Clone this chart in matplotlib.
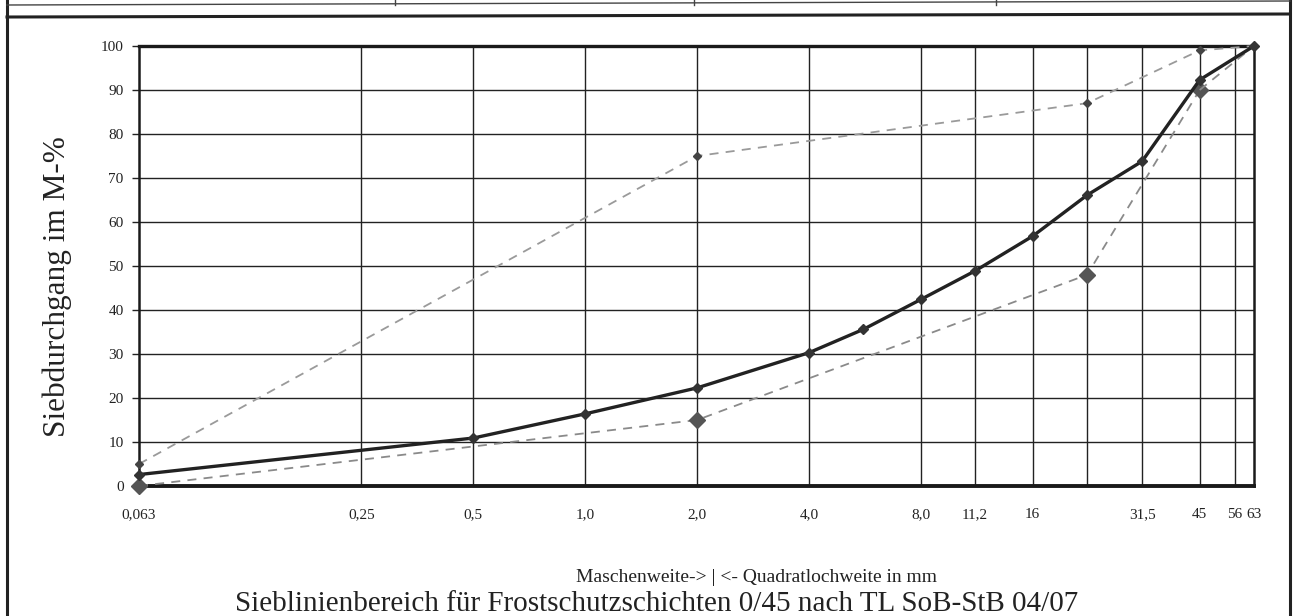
import matplotlib
matplotlib.use("Agg")
import matplotlib.pyplot as plt
from matplotlib.lines import Line2D

plt.rcParams['font.family'] = ['Liberation Serif', 'DejaVu Serif']

# Siebweiten (mm)
grid_sieves = [0.25, 0.5, 1.0, 2.0, 4.0, 8.0, 11.2, 16, 22.4, 31.5, 45, 56]
tick_pos = [0.063, 0.25, 0.5, 1.0, 2.0, 4.0, 8.0, 11.2, 16, 31.5, 45, 56, 63]
tick_lbl = ["0,063", "0,25", "0,5", "1,0", "2,0", "4,0", "8,0", "11,2", "16", "31,5", "45", "56", "63"]

# Probe (Sieblinie)
probe_x = [0.063, 0.5, 1.0, 2.0, 4.0, 5.6, 8.0, 11.2, 16, 22.4, 31.5, 45, 63]
probe_y = [2.6, 10.9, 16.4, 22.3, 30.3, 35.6, 42.4, 48.9, 56.8, 66.1, 73.8, 92.3, 100]

# Grenzlinien Sieblinienbereich
upper_x = [0.063, 2.0, 22.4, 45, 63]
upper_y = [5, 75, 87, 99, 100]
lower_x = [0.063, 2.0, 22.4, 45, 63]
lower_y = [0, 15, 48, 90, 100]

fig = plt.figure(figsize=(12.93, 6.16), dpi=100)
ax = fig.add_axes([139/1293, 1-486/616, (1254-139)/1293, (486-46)/616])

ax.set_xscale('log')
ax.set_xlim(0.063, 63)
ax.set_ylim(0, 100)

for s in grid_sieves:
    ax.axvline(s, color='#222222', lw=1.0, zorder=1)
for v in range(10, 100, 10):
    ax.axhline(v, color='#222222', lw=1.0, zorder=1)

ax.plot(upper_x, upper_y, ls=(0, (5, 4)), color='#9a9a9a', lw=1.3,
        marker='D', ms=4.5, mfc='#444444', mec='#444444', zorder=3, clip_on=False)
ax.plot(lower_x[:-1], lower_y[:-1], ls=(0, (5, 4)), color='#8a8a8a', lw=1.3,
        marker='D', ms=8.5, mfc='#555555', mec='#555555', zorder=3, clip_on=False)
ax.plot(lower_x[-2:], lower_y[-2:], ls=(0, (5, 4)), color='#8a8a8a', lw=1.3, zorder=3)
ax.plot(probe_x, probe_y, '-', color='#222222', lw=2.4,
        marker='D', ms=5, mfc='#333333', mec='#333333', zorder=4, clip_on=False)

ax.set_xticks(tick_pos)
ax.set_xticklabels(tick_lbl)
ax.xaxis.set_minor_locator(plt.NullLocator())
ax.set_yticks(range(0, 101, 10))
ax.tick_params(axis='x', length=0, pad=16, labelsize=11, colors='#222222')
ax.tick_params(axis='y', length=5, width=1, pad=6, labelsize=11, colors='#222222')

for side in ['left', 'right']:
    ax.spines[side].set_linewidth(1.8)
ax.spines['top'].set_linewidth(2.4)
ax.spines['bottom'].set_linewidth(2.8)
for sp in ax.spines.values():
    sp.set_color('#1a1a1a')

fig.text(57/1293, 1-287/616, "Siebdurchgang im M-%", rotation=90,
         ha='center', va='center', fontsize=22.5, color='#222222')
fig.text(756/1293, 1-577/616, "Maschenweite-> | <- Quadratlochweite in mm",
         ha='center', va='center', fontsize=14, color='#222222')
fig.text(657/1293, 1-611/616, "Sieblinienbereich für Frostschutzschichten 0/45 nach TL SoB-StB 04/07",
         ha='center', va='baseline', fontsize=21, color='#222222')

# Rahmen des Formblatts
fig.add_artist(Line2D([7/1293, 7/1293], [0, 1], color='#222222', lw=2.2))
fig.add_artist(Line2D([1290/1293, 1290/1293], [0, 1], color='#222222', lw=2.2))
fig.add_artist(Line2D([7/1293, 1290/1293], [1-17/616, 1-14/616], color='#222222', lw=2.2))
fig.add_artist(Line2D([7/1293, 1290/1293], [1-5/616, 1-1/616], color='#444444', lw=1.0))
for xv in [395, 694, 996]:
    fig.add_artist(Line2D([xv/1293, xv/1293], [1-5/616, 1], color='#444444', lw=1.0))

fig.savefig("out.png", dpi=100, facecolor='white')
